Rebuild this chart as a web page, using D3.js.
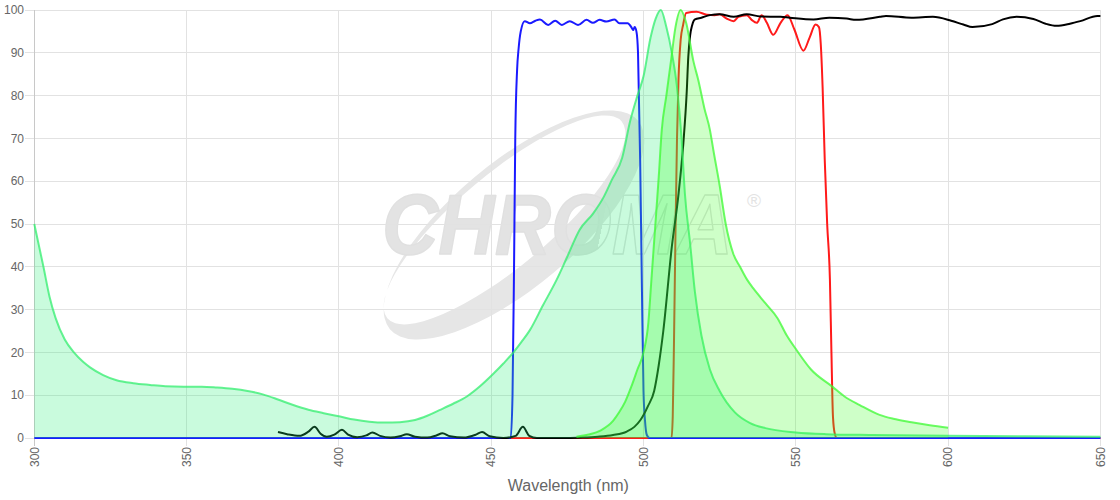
<!DOCTYPE html>
<html><head><meta charset="utf-8">
<script src="https://cdn.jsdelivr.net/npm/d3@7/dist/d3.min.js"></script>
<style>
html,body{margin:0;padding:0;background:#fff;}
svg text{font-family:"Liberation Sans",Arial,Helvetica,sans-serif;}
</style></head>
<body>
<svg id="chart" width="1120" height="500"></svg>
<script>
// ---- data ----
const xTicks = [300,350,400,450,500,550,600,650];
const yTicks = [0,10,20,30,40,50,60,70,80,90,100];
const xLabel = "Wavelength (nm)";
const logoText = "CHROMA";

const excitationFilter = [[300,0],[456.4,0],[457,10],[457.5,40],[457.9,70],[458.5,86],[459,91],[459.7,95],[461,97.4],[462.7,96.9],[464.5,97.5],[466,97.8],[468.7,96.5],[471,97.5],[473.2,96.5],[475.8,97.4],[478.5,96.5],[481.3,97.7],[483.4,97.0],[485.6,97.7],[487.8,97.3],[490.5,97.8],[492.1,96.9],[494.8,96.9],[496,96],[496.6,95.3],[497.1,96],[497.7,94.9],[498.2,90],[498.9,65],[499.5,34],[500,11],[500.5,4],[501.1,0.7],[502,0],[650,0]];

const emissionFilter = [[455,0],[509.2,0],[509.6,5],[510,22],[510.5,48],[511,70],[511.5,84],[512.2,93],[513,96.5],[514,99.3],[517.4,99.6],[520.8,98.9],[523.4,98.8],[525,99],[527.3,98],[529.6,97.4],[531.2,98.4],[533.9,98.8],[535.5,97.7],[537.2,97],[538.8,98.8],[540.5,97],[542.6,94.2],[545,97],[547.3,98.8],[549.5,95.5],[552.5,90.5],[554.5,93.5],[556.5,96.6],[557.6,96],[558.2,92],[558.8,82],[559.5,65],[560.3,50],[561.2,37],[561.7,20],[562.2,5],[562.8,1],[563.5,0],[650,0]];

const dichroic = [[380,1.4],[383,0.9],[387,0.5],[390,1.5],[392,2.6],[394,1],[396,0.3],[398.5,0.8],[401,1.9],[403,0.8],[406,0.2],[409,0.6],[411,1.3],[413.5,0.5],[417,0.1],[420,0.4],[422.3,0.9],[425,0.3],[429,0.1],[432,0.6],[434,1.1],[436.5,0.4],[441,0.1],[445,0.8],[447,1.4],[449.5,0.4],[454,0],[458,0.5],[460.4,2.6],[462.5,0.5],[465,0],[475,0],[480,0.1],[485,0.3],[490,0.7],[494.5,1.5],[497,2.6],[499,4.2],[501.5,7.5],[503.5,11],[505,17],[506.5,25],[509.3,44.7],[511.5,57],[513.1,69],[514.2,81],[514.7,89],[515.3,94],[516,96.5],[516.9,97.8],[519,98.2],[521.8,98.8],[525,99],[529.6,98.4],[533.9,99],[538.4,98.5],[545,98.4],[548,98.2],[555.8,97.8],[561,98.2],[566.7,98],[569.8,97.7],[577.6,98.4],[579.6,98.6],[588,98.2],[595,98.4],[601,97.5],[605,96.6],[608,96],[614.5,96.7],[618,97.8],[622.5,98.4],[628,97.9],[632,96.8],[635.6,96.3],[640,96.8],[643.4,97.4],[649,98.6],[650,98.6]];

const excitationSpectrum = [[300,50],[301.5,45],[303,40],[305,33],[307,28],[310,23],[313,20],[316,17.8],[318.3,16.5],[322.6,14.7],[327,13.5],[332.5,12.8],[338,12.4],[343,12.1],[349,12],[355,12],[360,11.8],[365,11.5],[370,11],[375,10.2],[380,9],[385,7.7],[390,6.6],[395,5.8],[400.4,5],[405,4.3],[410,3.8],[415,3.6],[420,3.7],[425,4.2],[429,5.2],[433,6.5],[437.5,8],[442,9.7],[446.5,12.2],[450.7,15],[454,17.4],[457.3,20],[460,22.5],[462.7,25.2],[467,31],[471.5,37],[475,42.4],[479,48.6],[483.5,52.5],[487,56.4],[489.6,60.3],[493,65.5],[495.6,74],[498,80],[500,84.5],[502.3,93.5],[504,98],[505.7,100],[507.5,96],[509.3,90],[511,82],[512.5,70],[513.6,57],[515.3,45.5],[516.9,34],[519,24],[521.8,16],[525,11],[530,6],[535,3.5],[540,2.3],[550,1.3],[560,0.9],[575,0.7],[600,0.5],[625,0.4],[650,0.3]];

const emissionSpectrum = [[478,0.3],[482,0.8],[486,1.8],[490,4],[492,6],[494,8.5],[496,12],[498,16],[500,20],[501.6,27],[502.5,36],[503.8,49],[505,61],[506,72],[507.5,80],[509,88],[510.5,96],[512.2,100],[514,97],[516.4,88],[518,83.6],[520,77],[521.8,72],[523,67],[525,59],[527,50],[529.5,43],[531.7,40],[534,37],[536,35],[540,31.5],[544,28],[547,24],[550.3,20.5],[555,16],[562,12],[566,9.7],[571,7.7],[577.5,5.4],[582,4.5],[588,3.7],[594,3],[600,2.4]];

// ---- layout ----
const svg = d3.select("#chart");
const L = 34.3, R = 1100.4, T = 10, B = 438;
const x = d3.scaleLinear().domain([300,650]).range([L,R]);
const y = d3.scaleLinear().domain([0,100]).range([B,T]);

// watermark
const defs = svg.append("defs");
const grad = defs.append("linearGradient").attr("id","logoFill")
  .attr("gradientUnits","userSpaceOnUse")
  .attr("x1",0).attr("y1",-28).attr("x2",352).attr("y2",46);
grad.append("stop").attr("offset",0).attr("stop-color","#e3e3e3").attr("stop-opacity",1);
grad.append("stop").attr("offset",0.6).attr("stop-color","#e3e3e3").attr("stop-opacity",1);
grad.append("stop").attr("offset",0.6).attr("stop-color","#e3e3e3").attr("stop-opacity",0);
grad.append("stop").attr("offset",1).attr("stop-color","#e3e3e3").attr("stop-opacity",0);

const wm = svg.append("g").attr("class","watermark");
const cx = 514, cy = 225, ang = -40;
function ellipsePath(cx,cy,rx,ry){
  return `M${cx-rx},${cy} a${rx},${ry} 0 1,0 ${2*rx},0 a${rx},${ry} 0 1,0 ${-2*rx},0 Z`;
}
wm.append("path")
  .attr("d", ellipsePath(0,0,162,62) + " " + ellipsePath(-4,-10,153,46))
  .attr("fill-rule","evenodd")
  .attr("fill","#e6e6e6")
  .attr("transform",`translate(${cx},${cy}) rotate(${ang})`);
wm.append("text").text(logoText)
  .attr("transform","translate(382,254) scale(1,1.1)")
  .attr("x",0).attr("y",0)
  .attr("font-size",78).attr("font-weight","bold").attr("font-style","italic")
  .attr("fill","url(#logoFill)").attr("stroke","#e0e0e0").attr("stroke-width",1.3).attr("stroke-linejoin","round");
wm.append("text").text("®")
  .attr("x",754).attr("y",207).attr("text-anchor","middle")
  .attr("font-size",19).attr("fill","#e3e3e3");

// grid
const grid = svg.append("g");
grid.selectAll("line.h").data(yTicks).join("line")
  .attr("x1",L-9).attr("x2",R).attr("y1",d=>y(d)).attr("y2",d=>y(d))
  .attr("stroke","#e2e2e2").attr("stroke-width",1).attr("shape-rendering","crispEdges");
grid.selectAll("line.v").data(xTicks).join("line")
  .attr("y1",T).attr("y2",B+8).attr("x1",d=>x(d)).attr("x2",d=>x(d))
  .attr("stroke",(d,i)=> i===0 ? "#c8c8c8" : "#e2e2e2").attr("stroke-width",1).attr("shape-rendering","crispEdges");

// axis labels
svg.append("g").selectAll("text").data(yTicks).join("text")
  .attr("x",24).attr("y",d=>y(d)).attr("dy","0.35em")
  .attr("text-anchor","end").attr("font-size",12).attr("fill","#666")
  .text(d=>d);
svg.append("g").selectAll("text").data(xTicks).join("text")
  .attr("transform",d=>`translate(${x(d)},447) rotate(-90)`)
  .attr("dy","0.35em")
  .attr("text-anchor","end").attr("font-size",12).attr("fill","#666")
  .text(d=>d);
svg.append("text").attr("x",(L+R)/2+1).attr("y",491)
  .attr("text-anchor","middle").attr("font-size",16).attr("fill","#666")
  .text(xLabel);

// filter lines
const line = d3.line().x(d=>x(d[0])).y(d=>y(d[1])).curve(d3.curveMonotoneX);
const area = d3.area().x(d=>x(d[0])).y0(y(0)).y1(d=>y(d[1])).curve(d3.curveMonotoneX);

const plot = svg.append("g");
plot.append("path").datum(emissionFilter).attr("d",line)
  .attr("fill","none").attr("stroke","#ff1a1a").attr("stroke-width",2);
plot.append("path").datum(excitationFilter).attr("d",line)
  .attr("fill","none").attr("stroke","#1a1aff").attr("stroke-width",2);
plot.append("path").datum(dichroic).attr("d",line)
  .attr("fill","none").attr("stroke","#000").attr("stroke-width",2);

// spectra (fills drawn over filter lines)
plot.append("path").datum(excitationSpectrum).attr("d",area)
  .attr("fill","rgba(39,239,119,0.25)");
plot.append("path").datum(excitationSpectrum).attr("d",line)
  .attr("fill","none").attr("stroke","rgba(50,238,110,0.75)").attr("stroke-width",2);
plot.append("path").datum(emissionSpectrum).attr("d",area)
  .attr("fill","rgba(59,255,35,0.25)");
plot.append("path").datum(emissionSpectrum).attr("d",line)
  .attr("fill","none").attr("stroke","rgba(60,250,50,0.75)").attr("stroke-width",2);
</script>
</body></html>
